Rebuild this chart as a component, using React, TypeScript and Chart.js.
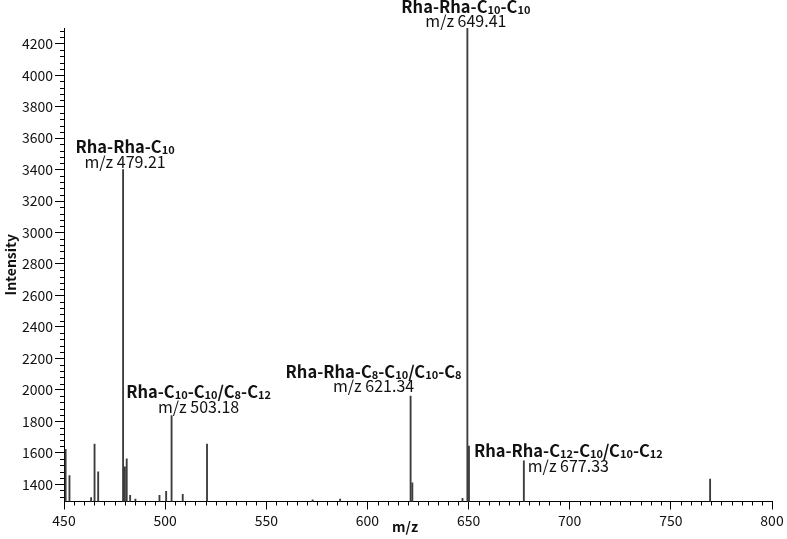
import React, { useEffect, useRef } from 'react';
import { Chart, registerables } from 'chart.js';

Chart.register(...registerables);

// ---- data ----
const peakMz = [450.8, 452.7, 463.4, 465.1, 466.9, 479.21, 480.1, 481.0, 482.7, 485.3, 497.2, 500.5, 503.18, 508.7, 520.7, 572.9, 586.5, 621.34, 622.2, 647.0, 649.41, 650.2, 677.33, 769.4];
const peakIntensity = [1622, 1455, 1315, 1655, 1478, 3400, 1510, 1562, 1330, 1305, 1330, 1355, 1836, 1335, 1655, 1300, 1305, 1960, 1408, 1310, 4300, 1643, 1548, 1432];

const labelMz = [479.21, 503.18, 621.34, 649.41, 677.33];
const labelIntensity = [3400, 1836, 1960, 4300, 1548];
const labelName = ['Rha-Rha-C10', 'Rha-C10-C10/C8-C12', 'Rha-Rha-C8-C10/C10-C8', 'Rha-Rha-C10-C10', 'Rha-Rha-C12-C10/C10-C12'];
const labelMzText = ['m/z 479.21', 'm/z 503.18', 'm/z 621.34', 'm/z 649.41', 'm/z 677.33'];

const xTickValues = [450, 500, 550, 600, 650, 700, 750, 800];
const yTickValues = [1400, 1600, 1800, 2000, 2200, 2400, 2600, 2800, 3000, 3200, 3400, 3600, 3800, 4000, 4200];
const xMin = 450;
const xMax = 800;
const xMinorStep = 5;
const yMin = 1290;
const yMax = 4300;
const yMinorStep = 40;
const xTitle = 'm/z';
const yTitle = 'Intensity';

// ---- layout (pixel offsets of annotation text relative to peak top) ----
const labelDx = [2, 27, -37, -1.5, 44.5];
const labelDy = [-2, -3, -4, -1, 11];

const FONT = "'Noto Sans CJK JP', 'Noto Sans', sans-serif";

function drawName(ctx: CanvasRenderingContext2D, text: string, cx: number, baseline: number) {
  const parts = text.split(/(\d+)/);
  const mainFont = `bold 16.5px ${FONT}`;
  const subFont = `bold 11px ${FONT}`;
  let total = 0;
  const widths: number[] = [];
  parts.forEach((p, i) => {
    ctx.font = i % 2 === 1 ? subFont : mainFont;
    const w = ctx.measureText(p).width;
    widths.push(w);
    total += w;
  });
  let x = cx - total / 2;
  ctx.textAlign = 'left';
  ctx.textBaseline = 'alphabetic';
  parts.forEach((p, i) => {
    ctx.font = i % 2 === 1 ? subFont : mainFont;
    ctx.fillText(p, x, i % 2 === 1 ? baseline + 1 : baseline);
    x += widths[i];
  });
}

const annotationPlugin = {
  id: 'msAnnotations',
  afterDraw(chart: any) {
    const { ctx, scales, chartArea } = chart;
    const x = scales.x;
    const y = scales.y;
    ctx.save();
    // minor ticks
    ctx.strokeStyle = '#000';
    ctx.lineWidth = 1;
    ctx.beginPath();
    for (let v = xMin + xMinorStep; v < xMax; v += xMinorStep) {
      if (xTickValues.includes(v)) continue;
      const px = Math.round(x.getPixelForValue(v)) + 0.5;
      ctx.moveTo(px, chartArea.bottom);
      ctx.lineTo(px, chartArea.bottom + 4);
    }
    for (let v = Math.ceil(yMin / yMinorStep) * yMinorStep; v <= yMax; v += yMinorStep) {
      if (yTickValues.includes(v)) continue;
      const py = Math.round(y.getPixelForValue(v)) + 0.5;
      ctx.moveTo(chartArea.left - 4, py);
      ctx.lineTo(chartArea.left, py);
    }
    ctx.stroke();

    // peak labels
    ctx.fillStyle = '#111';
    labelMz.forEach((mz, i) => {
      const px = x.getPixelForValue(mz) + labelDx[i];
      const py = y.getPixelForValue(labelIntensity[i]) + labelDy[i];
      ctx.font = `16px ${FONT}`;
      ctx.textAlign = 'center';
      ctx.textBaseline = 'alphabetic';
      ctx.fillText(labelMzText[i], px, py);
      drawName(ctx, labelName[i], px, py - 14.5);
    });

    // x axis title
    ctx.font = `bold 14px ${FONT}`;
    ctx.textAlign = 'center';
    ctx.textBaseline = 'middle';
    ctx.fillText(xTitle, 405, 527);
    ctx.restore();
  },
};

export default function App() {
  const ref = useRef<HTMLCanvasElement | null>(null);
  useEffect(() => {
    if (!ref.current) return;
    Chart.defaults.font.family = FONT;
    Chart.defaults.color = '#111';
    const chart = new Chart(ref.current, {
      type: 'bar',
      data: {
        datasets: [
          {
            data: peakMz.map((m, i) => ({ x: m, y: peakIntensity[i] })),
            backgroundColor: '#3c3c3c',
            borderWidth: 0,
            barThickness: 1.2,
            grouped: false,
          } as any,
        ],
      },
      options: {
        responsive: false,
        animation: false,
        layout: { padding: { top: 28, right: 15, left: 0, bottom: 0 } },
        plugins: { legend: { display: false }, tooltip: { enabled: false } },
        scales: {
          x: {
            type: 'linear',
            min: xMin,
            max: xMax,
            offset: false,
            grid: { display: true, drawOnChartArea: false, tickLength: 8, color: '#000', offset: false },
            border: { color: '#000', width: 1 },
            ticks: { padding: 3, font: { size: 14 }, maxRotation: 0, autoSkip: false, callback: (v: any) => String(v) },
            afterBuildTicks: (s: any) => { s.ticks = xTickValues.map((v) => ({ value: v })); },
            afterFit: (s: any) => { s.height = 37.5; },
          },
          y: {
            type: 'linear',
            min: yMin,
            max: yMax,
            grid: { display: true, drawOnChartArea: false, tickLength: 9, color: '#000' },
            border: { color: '#000', width: 1 },
            ticks: { padding: 2, font: { size: 14 }, autoSkip: false, callback: (v: any) => String(v) },
            afterBuildTicks: (s: any) => { s.ticks = yTickValues.map((v) => ({ value: v })); },
            title: { display: true, text: yTitle, font: { size: 14, weight: 'bold' }, padding: { top: 2, bottom: 0 } },
            afterFit: (s: any) => { s.width = 64; },
          },
        } as any,
      },
      plugins: [annotationPlugin],
    });
    return () => chart.destroy();
  }, []);
  return (
    <div style={{ position: 'fixed', left: 0, top: 0, width: 787, height: 539, background: '#fff' }}>
      <canvas ref={ref} width={787} height={539} style={{ width: 787, height: 539, display: 'block' }} />
    </div>
  );
}
